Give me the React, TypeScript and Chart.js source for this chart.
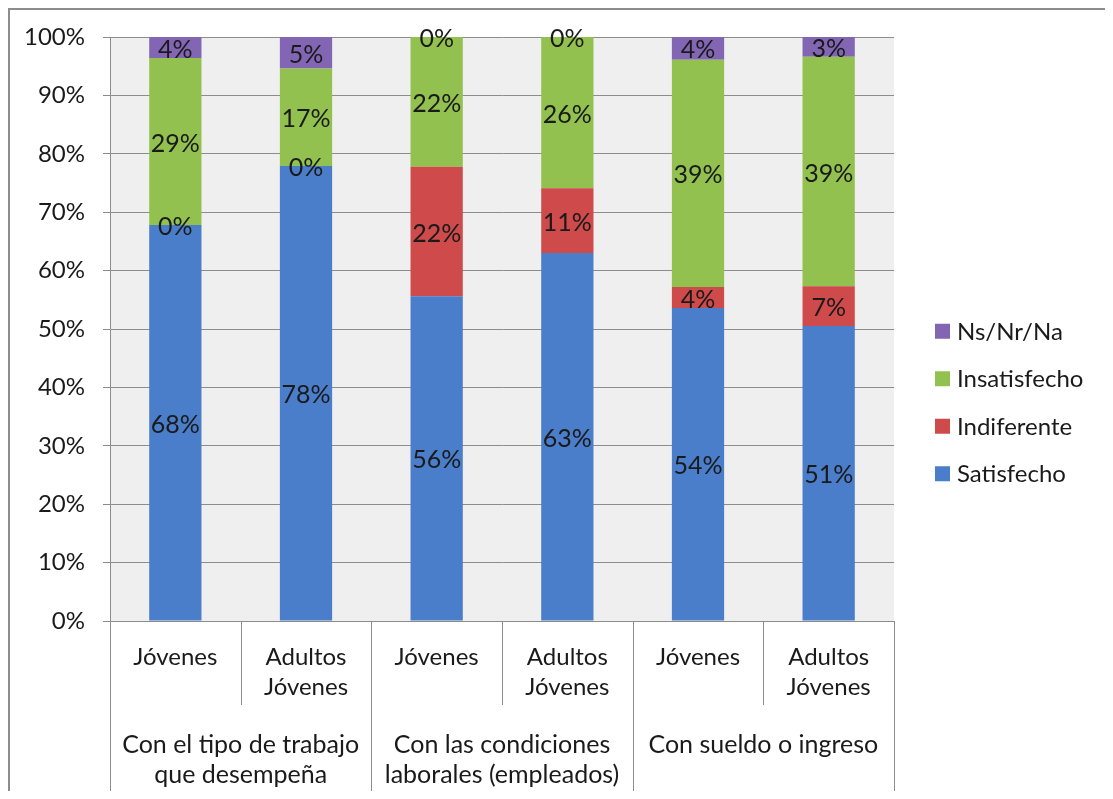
import React, { useEffect, useRef } from "react";
import { Chart, registerables } from "chart.js";

Chart.register(...registerables);

// ---- Data ----
const subCategories: string[][] = [
  ["Jóvenes"],
  ["Adultos", "Jóvenes"],
  ["Jóvenes"],
  ["Adultos", "Jóvenes"],
  ["Jóvenes"],
  ["Adultos", "Jóvenes"],
];
const groupLabels: string[][] = [
  ["Con el tipo de trabajo", "que desempeña"],
  ["Con las condiciones", "laborales (empleados)"],
  ["Con sueldo o ingreso"],
];
const groupSizes = [2, 2, 2];

const satisfecho = [67.8, 77.9, 55.6, 63.0, 53.6, 50.5];
const indiferente = [0, 0, 22.2, 11.1, 3.6, 6.8];
const insatisfecho = [28.6, 16.7, 22.2, 25.9, 38.9, 39.3];
const nsnrna = [3.6, 5.4, 0, 0, 3.9, 3.4];

const seriesNames = ["Satisfecho", "Indiferente", "Insatisfecho", "Ns/Nr/Na"];
const seriesColors = ["#4A7ECB", "#CF4A4A", "#92C14F", "#8266B4"];
const yTickValues = [0, 10, 20, 30, 40, 50, 60, 70, 80, 90, 100];

const FONT = "Lato, 'Open Sans', sans-serif";
const TEXT = "#1a1a1a";
const LINE = "#8c8c8c";

export default function App() {
  const ref = useRef<HTMLCanvasElement>(null);

  useEffect(() => {
    const canvas = ref.current;
    if (!canvas) return;

    const bgPlugin = {
      id: "plotBg",
      beforeDraw(chart: any) {
        const { ctx, chartArea } = chart;
        ctx.save();
        ctx.fillStyle = "#efefef";
        ctx.fillRect(chartArea.left, chartArea.top, chartArea.right - chartArea.left, chartArea.bottom - chartArea.top);
        ctx.restore();
      },
    };

    const labelsPlugin = {
      id: "segLabels",
      afterDatasetsDraw(chart: any) {
        const { ctx } = chart;
        ctx.save();
        ctx.font = `25px ${FONT}`;
        ctx.fillStyle = TEXT;
        ctx.textAlign = "center";
        ctx.textBaseline = "middle";
        chart.data.datasets.forEach((ds: any, i: number) => {
          const meta = chart.getDatasetMeta(i);
          meta.data.forEach((bar: any, j: number) => {
            const v = ds.data[j] as number;
            const p = bar.getProps(["x", "y", "base"], true);
            ctx.fillText(Math.round(v) + "%", p.x, (p.y + p.base) / 2 + 2);
          });
        });
        ctx.restore();
      },
    };

    const groupPlugin = {
      id: "groupAxis",
      afterDraw(chart: any) {
        const { ctx, chartArea } = chart;
        const xs = chart.scales.x;
        const n = subCategories.length;
        const step = xs.getPixelForValue(1) - xs.getPixelForValue(0);
        const boundary = (k: number) => xs.getPixelForValue(0) - step / 2 + k * step;
        const groupEdges = new Set<number>([0]);
        let acc = 0;
        groupSizes.forEach((s) => {
          acc += s;
          groupEdges.add(acc);
        });
        ctx.save();
        ctx.strokeStyle = LINE;
        ctx.lineWidth = 1;
        for (let k = 0; k <= n; k++) {
          const x = Math.round(boundary(k)) + 0.5;
          const yEnd = groupEdges.has(k) ? chart.height : chartArea.bottom + 84;
          ctx.beginPath();
          ctx.moveTo(x, chartArea.bottom);
          ctx.lineTo(x, yEnd);
          ctx.stroke();
        }
        ctx.font = `25px ${FONT}`;
        ctx.fillStyle = TEXT;
        ctx.textAlign = "center";
        ctx.textBaseline = "middle";
        let start = 0;
        groupSizes.forEach((s, g) => {
          const cx = (boundary(start) + boundary(start + s)) / 2;
          groupLabels[g].forEach((line, li) => {
            ctx.fillText(line, cx, chartArea.bottom + 124 + li * 30);
          });
          start += s;
        });
        ctx.restore();
      },
    };

    const legendPlugin = {
      id: "sideLegend",
      afterDraw(chart: any) {
        const { ctx, chartArea } = chart;
        const items = chart.data.datasets.map((d: any) => ({ label: d.label, color: d.backgroundColor })).reverse();
        const spacing = 47.5;
        const cy0 = chart.height / 2 - ((items.length - 1) * spacing) / 2 + 2;
        const bx = chartArea.right + 41;
        ctx.save();
        ctx.font = `24px ${FONT}`;
        ctx.textAlign = "left";
        ctx.textBaseline = "middle";
        items.forEach((it: any, i: number) => {
          const cy = cy0 + i * spacing;
          ctx.fillStyle = it.color;
          ctx.fillRect(bx, cy - 7.5, 15, 15);
          ctx.fillStyle = TEXT;
          ctx.fillText(it.label, bx + 22, cy + 1);
        });
        ctx.restore();
      },
    };

    const chart = new Chart(canvas, {
      type: "bar",
      data: {
        labels: subCategories,
        datasets: [satisfecho, indiferente, insatisfecho, nsnrna].map((d, i) => ({
          label: seriesNames[i],
          data: d,
          backgroundColor: seriesColors[i],
          borderWidth: 0,
          barPercentage: 0.4,
          categoryPercentage: 1,
        })),
      },
      options: {
        responsive: false,
        animation: false,
        layout: { padding: { top: 27, right: 217, left: 0, bottom: 0 } },
        plugins: {
          legend: { display: false },
          tooltip: { enabled: false },
        },
        scales: {
          x: {
            stacked: true,
            offset: true,
            grid: { display: false },
            border: { display: false },
            ticks: {
              color: TEXT,
              font: { family: FONT, size: 24, lineHeight: 1.25 },
              padding: 13,
              maxRotation: 0,
              autoSkip: false,
            },
            afterFit: (s: any) => {
              s.height = 170;
              s.paddingLeft = 0;
              s.paddingRight = 0;
            },
          },
          y: {
            stacked: true,
            min: 0,
            max: 100,
            afterBuildTicks: (s: any) => {
              s.ticks = yTickValues.map((v) => ({ value: v }));
            },
            grid: { color: LINE, tickLength: 7, drawTicks: true, tickColor: LINE },
            border: { display: true, color: LINE },
            ticks: {
              color: TEXT,
              font: { family: FONT, size: 24 },
              padding: 18,
              callback: (v: any) => v + "%",
            },
            afterFit: (s: any) => {
              s.width = 100;
              s.paddingTop = 0;
              s.paddingBottom = 0;
            },
          },
        },
      },
      plugins: [bgPlugin, labelsPlugin, groupPlugin, legendPlugin],
    });

    return () => chart.destroy();
  }, []);

  return (
    <div
      style={{
        width: 1101,
        height: 781,
        borderTop: "2px solid #8c8c8c",
        borderLeft: "2px solid #8c8c8c",
        background: "#fff",
      }}
    >
      <canvas ref={ref} width={1101} height={781} style={{ display: "block", width: 1101, height: 781 }} />
    </div>
  );
}
